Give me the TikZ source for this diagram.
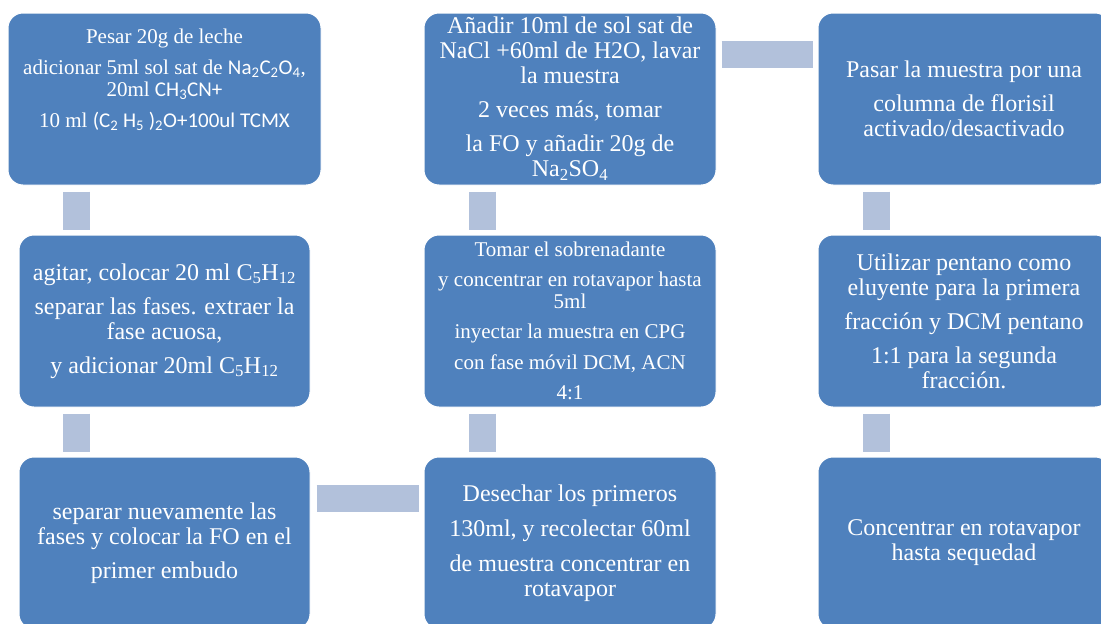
\documentclass[tikz,border=0pt]{standalone}
\usepackage{fontspec}
\setmainfont{Liberation Serif}
\newfontfamily\calibri{Carlito}
\usepackage{tikz}
\definecolor{boxblue}{HTML}{4F81BD}
\definecolor{linkblue}{HTML}{B2C1DB}
\tikzstyle{box}=[rectangle,rounded corners=15pt,fill=boxblue,draw=white,line width=1pt,minimum width=292pt,minimum height=172pt,align=center,text=white,font=\fontsize{24}{25}\selectfont]
\tikzstyle{Sbox}=[box,font=\fontsize{21}{22}\selectfont]
\tikzstyle{link}=[draw=linkblue,line width=27pt]
\newcommand{\sub}[1]{\textsubscript{#1}}

\begin{document}
\begin{tikzpicture}[x=1pt,y=-1pt]
    \useasboundingbox (0,0) rectangle (1101,624);
    \clip (0,0) rectangle (1101,624);
    % top row
    \node[Sbox,minimum width=313pt] (00) at (164.5,99) {Pesar 20g de leche\\[9pt]
        adicionar 5ml sol sat de {\calibri Na\sub{2}C\sub{2}O\sub{4}},\\
        20ml {\calibri CH\sub{3}CN+}\\[9pt]
        10 ml {\calibri (C\sub{2} H\sub{5} )\sub{2}O+100ul TCMX}\\[20pt]\mbox{}};
    \node[box] (10) at (570,99) {A\~nadir 10ml de sol sat de\\
        NaCl +60ml de H2O, lavar\\ la muestra\\[9pt]
        2 veces m\'as, tomar\\[9pt]
        la FO y a\~nadir 20g de\\ Na\sub{2}SO\sub{4}};
    \node[box] (20) at (964,99) {Pasar la muestra por una\\[9pt]
        columna de florisil\\ activado/desactivado};
    % middle row
    \node[box,minimum width=291pt] (01) at (164.5,321) {agitar, colocar 20 ml C\sub{5}H\sub{12}\\[9pt]
        separar las fases. extraer la\\ fase acuosa,\\[9pt]
        y adicionar 20ml C\sub{5}H\sub{12}};
    \node[Sbox] (11) at (570,321) {Tomar el sobrenadante\\[8pt]
        y concentrar en rotavapor hasta\\ 5ml\\[8pt]
        inyectar la muestra en CPG\\[9pt]
        con fase m\'ovil DCM, ACN\\[8pt] 4:1};
    \node[box] (21) at (964,321) {Utilizar pentano como\\ eluyente para la primera\\[9pt]
        fracci\'on y DCM pentano\\[9pt]
        1:1 para la segunda\\ fracci\'on.};
    % bottom row
    \node[box,minimum width=291pt] (02) at (164.5,543) {separar nuevamente las\\
        fases y colocar la FO en el\\[9pt] primer embudo};
    \node[box] (12) at (570,543) {Desechar los primeros\\[10pt]
        130ml, y recolectar 60ml\\[10pt]
        de muestra concentrar en\\ rotavapor};
    \node[box] (22) at (964,543) {Concentrar en rotavapor\\ hasta sequedad};
    % links
    \draw[link,shorten <=6pt,shorten >=5pt] ([xshift=-88pt]00.south) -- ([xshift=-88pt]01.north);
    \draw[link,shorten <=6pt,shorten >=5pt] ([xshift=-88pt]01.south) -- ([xshift=-88pt]02.north);
    \draw[link,shorten <=6pt,shorten >=5pt] ([xshift=-87.5pt]10.south) -- ([xshift=-87.5pt]11.north);
    \draw[link,shorten <=6pt,shorten >=5pt] ([xshift=-87.5pt]11.south) -- ([xshift=-87.5pt]12.north);
    \draw[link,shorten <=6pt,shorten >=5pt] ([xshift=-87.5pt]20.south) -- ([xshift=-87.5pt]21.north);
    \draw[link,shorten <=6pt,shorten >=5pt] ([xshift=-87.5pt]21.south) -- ([xshift=-87.5pt]22.north);
    \draw[link,shorten <=5pt,shorten >=5pt] ([yshift=-41.5pt]10.north east) -- ([yshift=-41.5pt]20.north west);
    \draw[link,shorten <=6pt,shorten >=5pt] ([yshift=-42pt]02.north east) -- ([yshift=-42pt]12.north west);
\end{tikzpicture}
\end{document}
